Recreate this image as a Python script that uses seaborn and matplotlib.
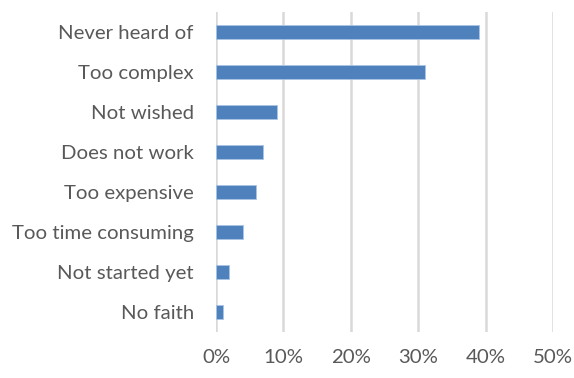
import matplotlib
matplotlib.use("Agg")
import matplotlib.pyplot as plt
import seaborn as sns
import pandas as pd
from matplotlib.ticker import PercentFormatter

categories = ["Never heard of", "Too complex", "Not wished", "Does not work",
              "Too expensive", "Too time consuming", "Not started yet", "No faith"]
values = [39, 31, 9, 7, 6, 4, 2, 1]
x_ticks = [0, 10, 20, 30, 40, 50]

df = pd.DataFrame({"reason": categories, "share": values})

sns.set_theme(style="white")
plt.rcParams['font.family'] = ['Lato', 'DejaVu Sans']

fig = plt.figure(figsize=(5.74, 3.78), dpi=100)
ax = fig.add_axes([0.3763, 0.1204, 0.9634 - 0.3763, 0.969 - 0.1204])

sns.barplot(data=df, x="share", y="reason", orient="h", color="#4f81bd",
            saturation=1, width=0.35, ax=ax, edgecolor="#a9c4e6", linewidth=0.6)

ax.set_xlim(0, 50)
ax.set_ylim(7.5, -0.5)
ax.set_xticks(x_ticks)
ax.xaxis.set_major_formatter(PercentFormatter(decimals=0))
ax.grid(axis="x", color="#d9d9d9", linewidth=1.8)
ax.set_axisbelow(True)
for s in ax.spines.values():
    s.set_visible(False)
ax.set_xlabel("")
ax.set_ylabel("")
ax.tick_params(axis="x", length=0, pad=12, labelsize=14.7, labelcolor="#595959")
ax.tick_params(axis="y", length=0, pad=16, labelsize=14.7, labelcolor="#595959")

fig.savefig("out.png", dpi=100)
